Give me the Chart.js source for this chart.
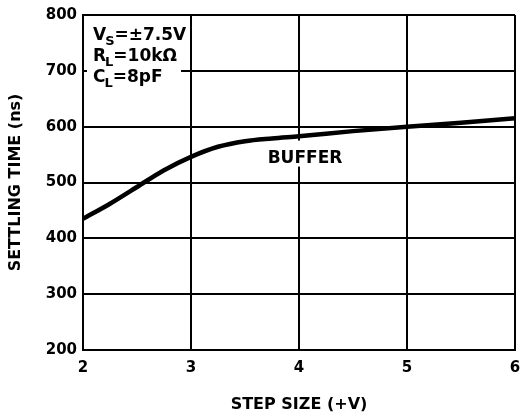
<!DOCTYPE html>
<html>
<head>
<meta charset="utf-8">
<script src="https://cdn.jsdelivr.net/npm/chart.js@4/dist/chart.umd.min.js"></script>
<style>
  html, body { margin: 0; padding: 0; background: #fff; }
  #wrap { width: 520px; height: 419px; }
</style>
</head>
<body>
<div id="wrap"><canvas id="c" width="520" height="419"></canvas></div>
<script>
const stepSize = [2, 2.25, 2.5, 2.75, 3, 3.25, 3.5, 3.75, 4, 4.5, 5, 5.5, 6];
const settlingTime = [435, 462, 492, 522, 546, 564, 574, 579, 583, 592, 600, 607, 615];
const xTicks = [2, 3, 4, 5, 6];
const yTicks = [200, 300, 400, 500, 600, 700, 800];
const seriesLabel = 'BUFFER';
const conditions = [
  ['V', 'S', '=±7.5V'],
  ['R', 'L', '=10kΩ'],
  ['C', 'L', '=8pF']
];

const FONT = "'DejaVu Sans', sans-serif";

const annot = {
  id: 'annot',
  beforeDatasetsDraw(chart) {
    const ctx = chart.ctx;
    const xs = chart.scales.x, ys = chart.scales.y;
    ctx.save();
    ctx.fillStyle = '#fff';
    const bx = xs.getPixelForValue(2) + 4;
    const by = ys.getPixelForValue(800) + 2;
    ctx.fillRect(bx, by, 94, 74);
    const lx = xs.getPixelForValue(4);
    const ly = ys.getPixelForValue(550);
    ctx.fillRect(lx - 35, ly - 14, 82, 26);
    ctx.restore();
  },
  afterDatasetsDraw(chart) {
    const ctx = chart.ctx;
    const xs = chart.scales.x, ys = chart.scales.y;
    ctx.save();
    ctx.fillStyle = '#000';
    ctx.textBaseline = 'alphabetic';
    ctx.textAlign = 'left';
    const x0 = xs.getPixelForValue(2) + 10;
    let y0 = ys.getPixelForValue(800) + 25;
    conditions.forEach(([a, sub, rest]) => {
      ctx.font = "bold 17px " + FONT;
      ctx.fillText(a, x0, y0);
      let w = ctx.measureText(a).width;
      ctx.font = "bold 13px " + FONT;
      ctx.fillText(sub, x0 + w - 1, y0 + 5);
      w += ctx.measureText(sub).width - 1;
      ctx.font = "bold 17px " + FONT;
      ctx.fillText(rest, x0 + w, y0);
      y0 += 21;
    });
    ctx.font = "bold 17px " + FONT;
    ctx.textAlign = 'center';
    ctx.fillText(seriesLabel, xs.getPixelForValue(4) + 6, ys.getPixelForValue(550) + 8);
    ctx.restore();
  }
};

new Chart(document.getElementById('c'), {
  type: 'line',
  data: {
    datasets: [{
      label: seriesLabel,
      data: stepSize.map((x, i) => ({x: x, y: settlingTime[i]})),
      borderColor: '#000',
      borderWidth: 4.5,
      pointRadius: 0,
      fill: false,
      cubicInterpolationMode: 'monotone',
      borderCapStyle: 'butt'
    }]
  },
  options: {
    responsive: false,
    animation: false,
    devicePixelRatio: 1,
    layout: { padding: { left: 0, right: 5, top: 14, bottom: 0 } },
    plugins: { legend: { display: false }, tooltip: { enabled: false } },
    scales: {
      x: {
        type: 'linear', min: 2, max: 6,
        afterBuildTicks(s) { s.ticks = xTicks.map(v => ({value: v})); },
        afterFit(s) { s.height = 69; s.paddingRight = 0; s.paddingLeft = 0; },
        grid: { color: '#000', lineWidth: 2, drawTicks: false },
        border: { display: true, color: '#000', width: 2 },
        ticks: { color: '#000', padding: 9, maxRotation: 0, font: { family: FONT, weight: 'bold', size: 15 } },
        title: { display: true, text: 'STEP SIZE (+V)', color: '#000', padding: { top: 0, bottom: 5 }, font: { family: FONT, weight: 'bold', size: 16 } }
      },
      y: {
        type: 'linear', min: 200, max: 800,
        afterBuildTicks(s) { s.ticks = yTicks.map(v => ({value: v})); },
        afterFit(s) { s.width = 83; },
        grid: { color: '#000', lineWidth: 2, drawTicks: false },
        border: { display: true, color: '#000', width: 2 },
        ticks: { color: '#000', padding: 6, font: { family: FONT, weight: 'bold', size: 15 } },
        title: { display: true, text: 'SETTLING TIME (ns)', color: '#000', padding: { top: 6, bottom: 0 }, font: { family: FONT, weight: 'bold', size: 16 } }
      }
    }
  },
  plugins: [annot]
});
</script>
</body>
</html>
